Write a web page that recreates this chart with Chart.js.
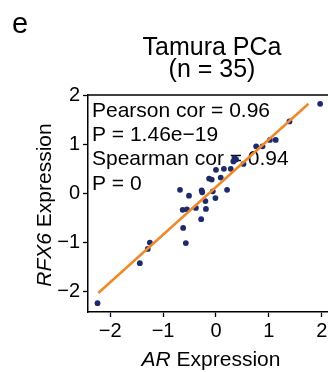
<!DOCTYPE html>
<html>
<head>
<meta charset="utf-8">
<script src="https://cdn.jsdelivr.net/npm/chart.js@4.4.1/dist/chart.umd.min.js"></script>
<style>
  html, body { margin: 0; padding: 0; background: #fff; overflow: hidden; }
  #wrap { position: absolute; left: 0; top: 0; }
</style>
</head>
<body>
<div id="wrap"><canvas id="grafico" width="345" height="372"></canvas></div>
<script>
// AR vs RFX6 expression, Tamura PCa
const arX = [1.97, 1.39, 1.13, 1.02, 0.88, 0.76, 0.52, 0.35, 0.33, 0.38, 0.28, 0.15, 0.00, 0.09,
  -0.13, -0.08, 0.21, -0.06, -0.01, -0.27, -0.26, -0.20, -0.19, -0.38, -0.28, -0.51, -0.68,
  -0.63, -0.55, -0.62, -0.57, -1.25, -1.29, -1.44, -2.24];
const rfx6Y = [1.84, 1.48, 1.10, 1.10, 0.97, 0.97, 0.61, 0.73, 0.66, 0.70, 0.51, 0.51, 0.49, 0.33,
  0.31, 0.29, 0.08, 0.05, -0.09, 0.07, 0.03, -0.15, -0.31, -0.29, -0.52, -0.04, 0.08,
  -0.33, -0.32, -0.70, -1.01, -1.00, -1.13, -1.42, -2.24];
const fitX = [-2.225, 1.75];
const fitY = [-2.03, 1.84];
const xTicks = [-2, -1, 0, 1, 2];
const yTicks = [-2, -1, 0, 1, 2];
const statLines = ['Pearson cor = 0.96', 'P = 1.46e\u221219', 'Spearman cor = 0.94', 'P = 0'];
const panelLabel = 'e';
const titleLines = ['Tamura PCa', '(n = 35)'];

const fam = 'Arial, "Liberation Sans", Helvetica, sans-serif';
const minus = v => (v < 0 ? '\u2212' : '') + Math.abs(v);

// mixed italic / upright axis title
function mixedText(ctx, parts, x, y, size) {
  let total = 0;
  parts.forEach(p => {
    ctx.font = (p.it ? 'italic ' : '') + size + 'px ' + fam;
    p.w = ctx.measureText(p.t).width;
    total += p.w;
  });
  let cx = x - total / 2;
  parts.forEach(p => {
    ctx.font = (p.it ? 'italic ' : '') + size + 'px ' + fam;
    ctx.fillText(p.t, cx, y);
    cx += p.w;
  });
}

const textPlugin = {
  id: 'textPlugin',
  beforeDatasetsDraw(chart) {
    const ctx = chart.ctx;
    const a = chart.chartArea;
    ctx.save();
    // top frame line
    ctx.strokeStyle = '#000';
    ctx.lineWidth = 1.5;
    ctx.beginPath();
    ctx.moveTo(a.left, a.top);
    ctx.lineTo(a.right, a.top);
    ctx.stroke();
    // stats text
    ctx.fillStyle = '#000';
    ctx.textAlign = 'left';
    ctx.textBaseline = 'alphabetic';
    ctx.font = '21px ' + fam;
    statLines.forEach((s, i) => ctx.fillText(s, 92, 117 + i * 24.2));
    ctx.restore();
  },
  afterDraw(chart) {
    const ctx = chart.ctx;
    ctx.save();
    ctx.fillStyle = '#000';
    ctx.textBaseline = 'alphabetic';
    ctx.textAlign = 'left';
    ctx.font = '29px ' + fam;
    ctx.fillText(panelLabel, 12, 33);
    ctx.textAlign = 'center';
    ctx.font = '25px ' + fam;
    ctx.fillText(titleLines[0], 212, 55);
    ctx.fillText(titleLines[1], 212, 77);
    ctx.textAlign = 'left';
    mixedText(ctx, [{t: 'AR', it: true}, {t: ' Expression', it: false}], 211, 366, 21);
    ctx.translate(51, 205);
    ctx.rotate(-Math.PI / 2);
    mixedText(ctx, [{t: 'RFX6', it: true}, {t: ' Expression', it: false}], 0, 0, 21);
    ctx.restore();
  }
};

const Grafico = document.getElementById('grafico');
const myChart = new Chart(Grafico, {
  type: 'scatter',
  data: {
    datasets: [
      {
        type: 'line',
        data: fitX.map((x, i) => ({x: x, y: fitY[i]})),
        borderColor: '#ef8a2c',
        borderWidth: 2.6,
        pointRadius: 0,
        fill: false,
        order: 0
      },
      {
        data: arX.map((x, i) => ({x: x, y: rfx6Y[i]})),
        backgroundColor: '#1f2a6c',
        borderWidth: 0,
        pointRadius: 2.9,
        order: 1
      }
    ]
  },
  options: {
    responsive: false,
    animation: false,
    layout: { padding: { top: 95, right: 9, bottom: 0, left: 0 } },
    plugins: { legend: { display: false }, tooltip: { enabled: false } },
    scales: {
      x: {
        type: 'linear',
        min: -2.42,
        max: 2.27,
        afterFit: s => { s.height = 60; },
        afterBuildTicks: s => { s.ticks = xTicks.map(v => ({value: v})); },
        grid: { drawOnChartArea: false, tickLength: 5, tickColor: '#000', tickWidth: 1.3 },
        border: { color: '#000', width: 1.5 },
        ticks: { color: '#000', font: { family: fam, size: 20 }, padding: 2, callback: minus, maxRotation: 0 }
      },
      y: {
        type: 'linear',
        min: -2.42,
        max: 2.02,
        afterFit: s => { s.width = 88; },
        afterBuildTicks: s => { s.ticks = yTicks.map(v => ({value: v})); },
        grid: { drawOnChartArea: false, tickLength: 5, tickColor: '#000', tickWidth: 1.3 },
        border: { color: '#000', width: 1.5 },
        ticks: { color: '#000', font: { family: fam, size: 20 }, padding: 3, callback: minus }
      }
    }
  },
  plugins: [textPlugin]
});
</script>
</body>
</html>
